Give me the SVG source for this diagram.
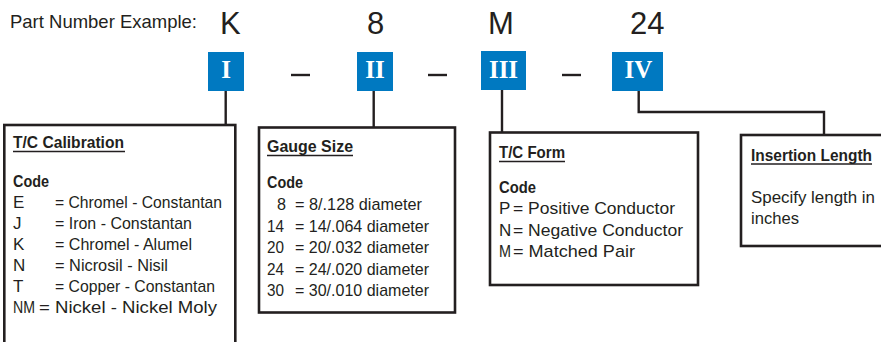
<svg xmlns="http://www.w3.org/2000/svg" width="881" height="342" viewBox="0 0 881 342">
<style>
.t{font-family:"Liberation Sans",Arial,sans-serif;fill:#231f20}
.big{font-size:31px}
.lbl{font-size:18.5px}
.b{font-size:17px}
.hd{font-size:17px;font-weight:bold}
.rn{font-family:"Liberation Serif","Times New Roman",serif;font-size:25px;font-weight:bold;fill:#fff;text-anchor:middle}
.box{fill:#fff;stroke:#231f20;stroke-width:2.6}
.blue{fill:#0079c1}
.ln{fill:none;stroke:#231f20;stroke-width:2.4}
.ul{stroke:#231f20;stroke-width:1.5}
</style>
<rect width="881" height="342" fill="#fff"/>
<g id="header">
<text class="t lbl" x="10" y="28" textLength="187" lengthAdjust="spacingAndGlyphs">Part Number Example:</text>
<text class="t big" x="220" y="34">K</text>
<text class="t big" x="367" y="34">8</text>
<text class="t big" x="488" y="34">M</text>
<text class="t big" x="630" y="34">24</text>
<line class="ln" x1="291" y1="75" x2="310" y2="75"/>
<line class="ln" x1="428" y1="75" x2="447" y2="75"/>
<line class="ln" x1="562" y1="75" x2="581" y2="75"/>
</g>
<g id="connectors">
<line class="ln" x1="225.7" y1="90" x2="225.7" y2="125"/>
<line class="ln" x1="373.7" y1="90" x2="373.7" y2="127.5"/>
<line class="ln" x1="502" y1="89" x2="502" y2="132.5"/>
<polyline class="ln" points="638.7,90 638.7,112 824,112 824,135"/>
</g>
<g id="code-I">
<rect class="blue" x="208" y="52" width="36" height="39"/>
<text class="rn" x="226" y="78">I</text>
</g>
<g id="code-II">
<rect class="blue" x="357" y="52" width="36" height="39"/>
<text class="rn" x="375" y="78">II</text>
</g>
<g id="code-III">
<rect class="blue" x="481" y="51" width="45" height="39"/>
<text class="rn" x="503.5" y="77.5">III</text>
</g>
<g id="code-IV">
<rect class="blue" x="612" y="52" width="51" height="39"/>
<text class="rn" x="638.5" y="78">IV</text>
</g>
<g id="tc-calibration">
<rect class="box" x="4.3" y="125" width="231" height="240"/>
<text class="t hd" x="13" y="148" textLength="111" lengthAdjust="spacingAndGlyphs">T/C Calibration</text>
<line class="ul" x1="13" y1="151.5" x2="125" y2="151.5"/>
<text class="t hd" x="13" y="187" textLength="36" lengthAdjust="spacingAndGlyphs">Code</text>
<text class="t b" x="13" y="208">E</text>
<text class="t b" x="55" y="208" textLength="167" lengthAdjust="spacingAndGlyphs">= Chromel - Constantan</text>
<text class="t b" x="13" y="229">J</text>
<text class="t b" x="55" y="229" textLength="137" lengthAdjust="spacingAndGlyphs">= Iron - Constantan</text>
<text class="t b" x="13" y="250">K</text>
<text class="t b" x="55" y="250" textLength="137" lengthAdjust="spacingAndGlyphs">= Chromel - Alumel</text>
<text class="t b" x="13" y="271">N</text>
<text class="t b" x="55" y="271" textLength="113" lengthAdjust="spacingAndGlyphs">= Nicrosil - Nisil</text>
<text class="t b" x="13" y="292">T</text>
<text class="t b" x="55" y="292" textLength="160" lengthAdjust="spacingAndGlyphs">= Copper - Constantan</text>
<text class="t b" x="13" y="313" textLength="22" lengthAdjust="spacingAndGlyphs">NM</text>
<text class="t b" x="39" y="313" textLength="178" lengthAdjust="spacingAndGlyphs">= Nickel - Nickel Moly</text>
</g>
<g id="gauge-size">
<rect class="box" x="259" y="127.5" width="196" height="185"/>
<text class="t hd" x="267" y="152" textLength="86" lengthAdjust="spacingAndGlyphs">Gauge Size</text>
<line class="ul" x1="267" y1="155.5" x2="353" y2="155.5"/>
<text class="t hd" x="267" y="188" textLength="36" lengthAdjust="spacingAndGlyphs">Code</text>
<text class="t b" x="277" y="210" textLength="9" lengthAdjust="spacingAndGlyphs">8</text>
<text class="t b" x="295" y="210" textLength="127" lengthAdjust="spacingAndGlyphs">= 8/.128 diameter</text>
<text class="t b" x="267" y="231.5" textLength="17" lengthAdjust="spacingAndGlyphs">14</text>
<text class="t b" x="295" y="231.5" textLength="134" lengthAdjust="spacingAndGlyphs">= 14/.064 diameter</text>
<text class="t b" x="267" y="253" textLength="17" lengthAdjust="spacingAndGlyphs">20</text>
<text class="t b" x="295" y="253" textLength="134" lengthAdjust="spacingAndGlyphs">= 20/.032 diameter</text>
<text class="t b" x="267" y="274.5" textLength="17" lengthAdjust="spacingAndGlyphs">24</text>
<text class="t b" x="295" y="274.5" textLength="134" lengthAdjust="spacingAndGlyphs">= 24/.020 diameter</text>
<text class="t b" x="267" y="296" textLength="17" lengthAdjust="spacingAndGlyphs">30</text>
<text class="t b" x="295" y="296" textLength="134" lengthAdjust="spacingAndGlyphs">= 30/.010 diameter</text>
</g>
<g id="tc-form">
<rect class="box" x="490" y="132.5" width="208" height="152.5"/>
<text class="t hd" x="499" y="158" textLength="66" lengthAdjust="spacingAndGlyphs">T/C Form</text>
<line class="ul" x1="499" y1="161.5" x2="565" y2="161.5"/>
<text class="t hd" x="499" y="193" textLength="37" lengthAdjust="spacingAndGlyphs">Code</text>
<text class="t b" x="499" y="214">P</text>
<text class="t b" x="513" y="214" textLength="162" lengthAdjust="spacingAndGlyphs">= Positive Conductor</text>
<text class="t b" x="499" y="236">N</text>
<text class="t b" x="513" y="236" textLength="170" lengthAdjust="spacingAndGlyphs">= Negative Conductor</text>
<text class="t b" x="499" y="257" textLength="12" lengthAdjust="spacingAndGlyphs">M</text>
<text class="t b" x="513" y="257" textLength="122" lengthAdjust="spacingAndGlyphs">= Matched Pair</text>
</g>
<g id="insertion-length">
<rect class="box" x="741" y="135" width="150" height="111"/>
<text class="t hd" x="751" y="160.5" textLength="121" lengthAdjust="spacingAndGlyphs">Insertion Length</text>
<line class="ul" x1="751" y1="164" x2="872" y2="164"/>
<text class="t b" x="751" y="203" textLength="124" lengthAdjust="spacingAndGlyphs">Specify length in</text>
<text class="t b" x="751" y="224" textLength="48" lengthAdjust="spacingAndGlyphs">inches</text>
</g>
</svg>
